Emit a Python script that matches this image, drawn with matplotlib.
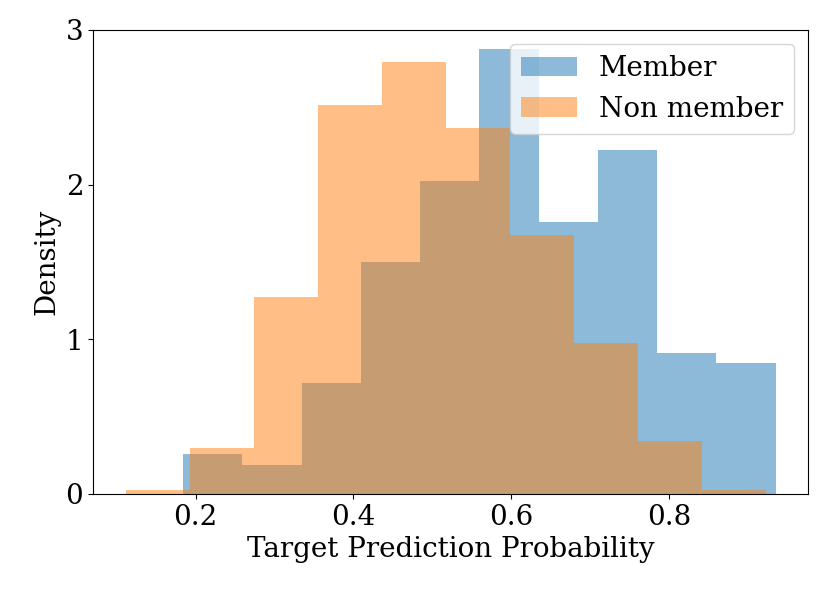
import numpy as np
import matplotlib.pyplot as plt

plt.rcParams['font.family'] = 'DejaVu Serif'
plt.rcParams['font.size'] = 20

# bin edges and densities
member_edges = np.linspace(0.184, 0.935, 11)
member_density = [0.256, 0.19, 0.715, 1.497, 2.026, 2.874, 1.76, 2.223, 0.911, 0.846]
nonmember_edges = np.linspace(0.111, 0.923, 11)
nonmember_density = [0.028, 0.297, 1.272, 2.514, 2.796, 2.369, 1.677, 0.977, 0.343, 0.028]

fig = plt.figure(figsize=(8.3, 6.01), dpi=100)
ax = fig.add_axes([93/830, 1 - 494/601, 715/830, 464/601])

ax.hist(member_edges[:-1], bins=member_edges, weights=member_density,
        alpha=0.5, color='tab:blue', label='Member')
ax.hist(nonmember_edges[:-1], bins=nonmember_edges, weights=nonmember_density,
        alpha=0.5, color='tab:orange', label='Non member')

ax.set_ylim(0, 3)
ax.set_yticks([0, 1, 2, 3])
ax.set_xticks([0.2, 0.4, 0.6, 0.8])
ax.set_xlabel('Target Prediction Probability')
ax.set_ylabel('Density')
ax.legend(loc='upper right')

fig.savefig('out.png')
